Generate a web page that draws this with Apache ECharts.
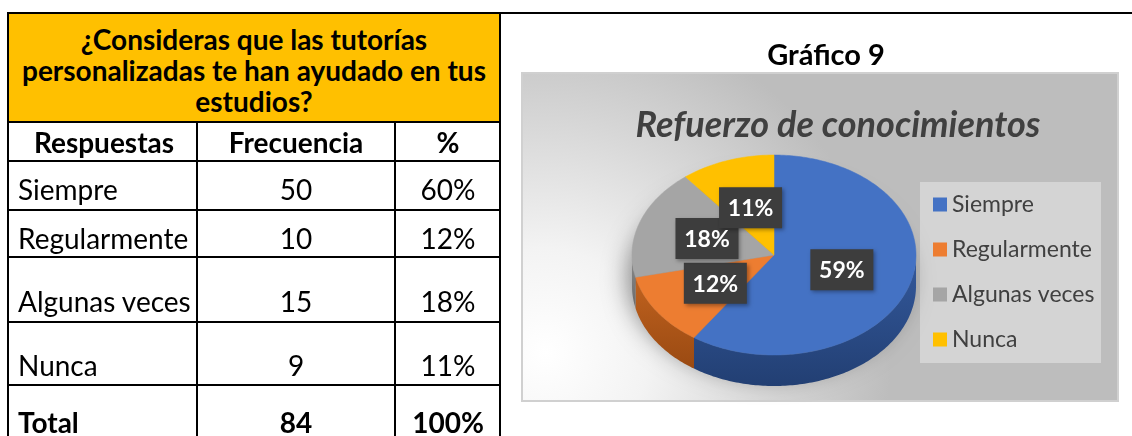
<!DOCTYPE html>
<html>
<head>
<meta charset="utf-8">
<script src="https://cdn.jsdelivr.net/npm/echarts@6/dist/echarts.min.js"></script>
<style>
  html, body { margin:0; padding:0; background:#fff; }
  body { width:1132px; height:436px; overflow:hidden; position:relative; font-family: Lato, "Noto Sans", sans-serif; }
  #chart { position:absolute; left:0; top:0; width:1132px; height:436px; }
  .ln { position:absolute; background:#000; }
  .cell { position:absolute; height:30px; line-height:30px; font-size:28px; color:#000; white-space:nowrap; }
  .b { font-weight:bold; }
</style>
</head>
<body>
<div id="chart"></div>
<div id="table"></div>
<script>
// ---------- data ----------
const questionLines = ['¿Consideras que las tutorías', 'personalizadas te han ayudado en tus', 'estudios?'];
const tableHeaders = ['Respuestas', 'Frecuencia', '%'];
const categories = ['Siempre', 'Regularmente', 'Algunas veces', 'Nunca'];
const frequencies = [50, 10, 15, 9];
const tablePercents = ['60%', '12%', '18%', '11%'];
const totalRow = ['Total', '84', '100%'];
const chartLabels = ['59%', '12%', '18%', '11%'];
const chartTitle = 'Gráfico 9';
const pieTitle = 'Refuerzo de conocimientos';

// ---------- styles ----------
const topColors = ['#4472C4', '#ED7D31', '#A5A5A5', '#FFC000'];
const sideColors = [['#34599c', '#223f73'], ['#c0621f', '#9a4a12'], ['#8a8a8a', '#6a6a6a'], ['#cc9a00', '#a07800']];
const FONT = 'Lato, "Noto Sans", sans-serif';

// ---------- table (HTML) ----------
(function buildTable() {
  const t = document.getElementById('table');
  const add = (html) => t.insertAdjacentHTML('beforeend', html);
  add('<div style="position:absolute;left:8px;top:13px;width:492px;height:109px;background:#FFC000"></div>');
  add('<div class="b" style="position:absolute;left:8px;top:24px;width:492px;text-align:center;font-size:28px;line-height:31px;white-space:nowrap;">' +
      questionLines.join('<br>') + '</div>');
  const rowLines = [122, 161, 210, 257, 322, 385];
  add('<div class="ln" style="left:7px;top:12px;width:1125px;height:2px"></div>');
  rowLines.forEach(y => add('<div class="ln" style="left:7px;top:' + (y - 1) + 'px;width:494px;height:2px"></div>'));
  add('<div class="ln" style="left:7px;top:12px;width:2px;height:430px"></div>');
  add('<div class="ln" style="left:499px;top:12px;width:2px;height:430px"></div>');
  [197, 395].forEach(x => add('<div class="ln" style="left:' + (x - 1) + 'px;top:122px;width:2px;height:320px"></div>'));

  const colCenters = [104, 296, 448];
  const centerText = (txt, cx, cy, bold) =>
    add('<div class="cell' + (bold ? ' b' : '') + '" style="left:' + (cx - 100) + 'px;width:200px;text-align:center;top:' + (cy - 15) + 'px">' + txt + '</div>');
  const leftText = (txt, cy, bold) =>
    add('<div class="cell' + (bold ? ' b' : '') + '" style="left:18px;top:' + (cy - 15) + 'px">' + txt + '</div>');

  tableHeaders.forEach((h, i) => centerText(h, colCenters[i], 142, true));
  const rowCenters = [189, 238, 301, 365];
  categories.forEach((c, i) => {
    leftText(c, rowCenters[i], false);
    centerText(String(frequencies[i]), colCenters[1], rowCenters[i], false);
    centerText(tablePercents[i], colCenters[2], rowCenters[i], false);
  });
  leftText(totalRow[0], 422, true);
  centerText(totalRow[1], colCenters[1], 422, true);
  centerText(totalRow[2], colCenters[2], 422, true);
})();

// ---------- pie chart (ECharts) ----------
const CX = 774, CY = 255, RX = 142, RY = 100, DEPTH = 31;
const total = frequencies.reduce((a, b) => a + b, 0);
function pt(deg, f, dy) {
  const r = deg * Math.PI / 180;
  return [CX + RX * f * Math.sin(r), CY - RY * f * Math.cos(r) + (dy || 0)];
}
function arcPoints(a0, a1, dy) {
  const pts = [];
  const n = Math.max(2, Math.ceil(Math.abs(a1 - a0)));
  for (let k = 0; k <= n; k++) pts.push(pt(a0 + (a1 - a0) * k / n, 1, dy));
  return pts;
}
function makeSlice(i) {
  let start = 0;
  for (let j = 0; j < i; j++) start += frequencies[j];
  const a0 = start / total * 360;
  const a1 = (start + frequencies[i]) / total * 360;
  const children = [];
  if (i === 0) {
    children.push({
      type: 'ellipse', z2: 0,
      shape: { cx: CX, cy: CY + DEPTH / 2, rx: RX - 2, ry: RY - 2 },
      style: { fill: '#777', shadowBlur: 24, shadowColor: 'rgba(0,0,0,0.45)', shadowOffsetX: -6, shadowOffsetY: 8 }
    });
  }
  const lo = Math.max(a0, 90), hi = Math.min(a1, 270);
  if (lo < hi) {
    const pts = arcPoints(lo, hi, 0).concat(arcPoints(hi, lo, DEPTH));
    children.push({
      type: 'polygon', z2: 5,
      shape: { points: pts },
      style: { fill: new echarts.graphic.LinearGradient(0, 0, 0, 1, [
        { offset: 0, color: sideColors[i][0] }, { offset: 1, color: sideColors[i][1] }]) }
    });
  }
  children.push({
    type: 'polygon', z2: 10,
    shape: { points: [[CX, CY]].concat(arcPoints(a0, a1, 0)) },
    style: { fill: topColors[i], stroke: topColors[i], lineWidth: 0.5 }
  });
  const mid = (a0 + a1) / 2;
  const lp = pt(mid, 0.5, 0);
  children.push({
    type: 'rect', z2: 100,
    shape: { x: lp[0] - 31.5, y: lp[1] - 20.5, width: 63, height: 41 },
    style: { fill: '#3d3d3d', shadowBlur: 4, shadowColor: 'rgba(0,0,0,0.35)', shadowOffsetX: 2, shadowOffsetY: 2 }
  });
  children.push({
    type: 'text', z2: 101, x: lp[0], y: lp[1] + 1,
    style: { text: chartLabels[i], fill: '#fff', font: 'bold 23px ' + FONT, align: 'center', verticalAlign: 'middle' }
  });
  return { type: 'group', children: children };
}

const chart = echarts.init(document.getElementById('chart'));
chart.setOption({
  animation: false,
  title: [
    { text: chartTitle, left: 826, top: 41, padding: 0, textAlign: 'center',
      textStyle: { fontFamily: FONT, fontWeight: 'bold', fontSize: 29, color: '#000' } },
    { text: pieTitle, left: 838, top: 107, padding: 0, textAlign: 'center',
      textStyle: { fontFamily: FONT, fontStyle: 'italic', fontWeight: 'bold', fontSize: 36, color: '#404040' } }
  ],
  graphic: [
    { type: 'rect', z: -10, shape: { x: 522, y: 73, width: 596, height: 328 },
      style: { fill: new echarts.graphic.RadialGradient(0.04, 0.85, 1.05, [
        { offset: 0, color: '#ffffff' }, { offset: 0.3, color: '#f3f3f3' }, { offset: 1, color: '#bdbdbd' }]),
        stroke: '#d0d0d0', lineWidth: 2 } },
    { type: 'rect', z: -5, shape: { x: 920, y: 182, width: 181, height: 181 }, style: { fill: '#d4d4d4' } }
  ],
  legend: {
    orient: 'vertical', left: 933, top: 193, padding: 0,
    itemWidth: 14, itemHeight: 14, itemGap: 22, icon: 'rect',
    selectedMode: false, data: categories,
    textStyle: { fontFamily: FONT, fontSize: 23, color: '#404040' }
  },
  series: categories.map((name, i) => ({
    type: 'custom', name: name, coordinateSystem: 'none',
    itemStyle: { color: topColors[i] },
    data: [frequencies[i]],
    renderItem: () => makeSlice(i)
  }))
});
</script>
</body>
</html>
